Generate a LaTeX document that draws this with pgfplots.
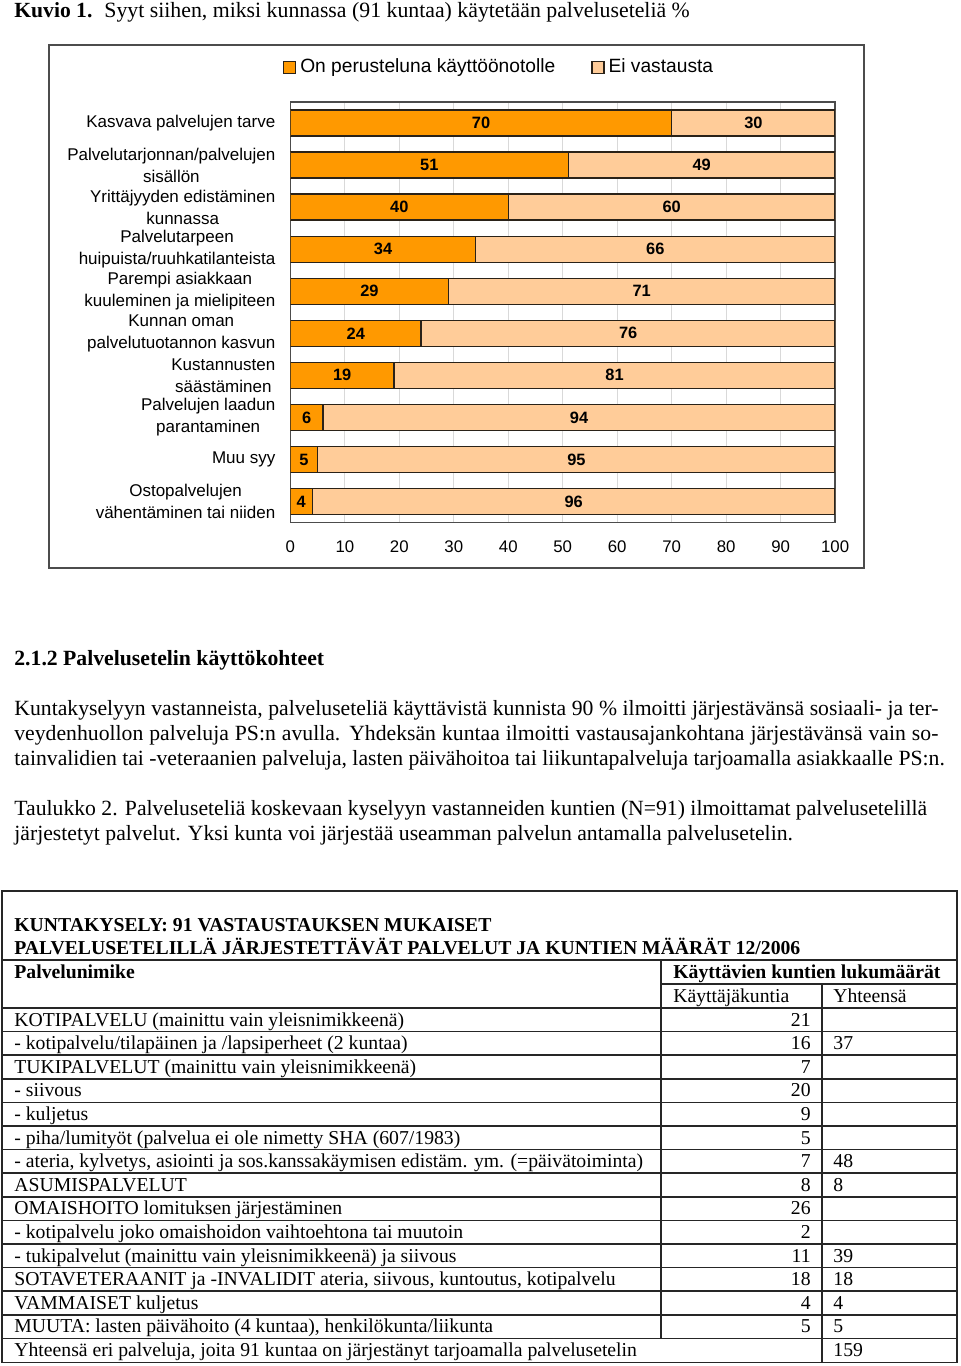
\documentclass[border=0pt]{standalone}
\usepackage{pgfplots}
\pgfplotsset{compat=1.18}
\usepackage{pgfplotstable}
\usepackage{fontspec}
\setmainfont{Liberation Serif}
\setsansfont{Liberation Sans}

\definecolor{oranssi}{HTML}{FF9900}
\definecolor{persikka}{HTML}{FFCC99}
\definecolor{reuna}{HTML}{2A2218}

% osuudet (%), 0 = ylin rivi
\pgfplotstableread{
cat on ei
0 70 30
1 51 49
2 40 60
3 34 66
4 29 71
5 24 76
6 19 81
7  6 94
8  5 95
9  4 96
}\syyt

% arvojen paikat palkkien keskellä
\pgfplotstableread{
cat x lab
0 35   70
0 85   30
1 25.5 51
1 75.5 49
2 20   40
2 70   60
3 17   34
3 67   66
4 14.5 29
4 64.5 71
5 12   24
5 62   76
6 9.5  19
6 59.5 81
7 3    6
7 53   94
8 2.5  5
8 52.5 95
9 2    4
9 52   96
}\nimet

\newcommand\teksti{\fontsize{10.85}{12.5}\selectfont}
\newcommand\taulu{\fontsize{9.85}{11.8}\selectfont}
\newcommand\rivi[4]{%
  \pgfmathsetmacro\yy{-(1026+23.6*#1)}%
  \node[anchor=base west, inner sep=0pt] at (14,\yy) {\taulu #2};
  \node[anchor=base east, inner sep=0pt] at (811,\yy) {\taulu #3};
  \node[anchor=base west, inner sep=0pt] at (833,\yy) {\taulu #4};
}

\begin{document}
\begin{tikzpicture}[x=0.5pt,y=0.5pt]
\useasboundingbox (0,0) rectangle (960,-1366);

% otsikko
\node[anchor=base west, inner sep=0pt] at (14,-17) {\fontsize{10.8}{13}\selectfont\bfseries Kuvio 1.};
\node[anchor=base west, inner sep=0pt] at (104,-17) {\fontsize{10.9}{13}\selectfont Syyt siihen, miksi kunnassa (91 kuntaa) käytetään palveluseteliä \%};

% kuvion kehys
\draw[gray!60!black, line width=1pt] (49,-45) rectangle (864,-568);

\begin{axis}[
  at={(145.2pt,-261.25pt)}, anchor=south west,
  scale only axis, width=272.35pt, height=210.25pt,
  xbar stacked, bar width=13pt,
  xmin=0, xmax=100, ymin=-0.5, ymax=9.5, y dir=reverse,
  xtick={0,10,...,100}, ytick={0,...,9},
  yticklabels={Kasvava palvelujen tarve,
    Palvelutarjonnan/palvelujen\\sisällön,
    Yrittäjyyden edistäminen\\kunnassa,
    Palvelutarpeen\\huipuista/ruuhkatilanteista,
    Parempi asiakkaan\\kuuleminen ja mielipiteen,
    Kunnan oman\\palvelutuotannon kasvun,
    Kustannusten\\säästäminen,
    Palvelujen laadun\\parantaminen,
    Muu syy,
    Ostopalvelujen\\vähentäminen tai niiden},
  xmajorgrids, major grid style={gray!30, line width=0.5pt},
  axis line style={gray!60!black, line width=0.7pt},
  tick style={draw=none},
  /pgf/number format/assume math mode=true,
  xticklabel style={font=\sffamily\fontsize{8.4}{10}\selectfont, yshift=-5.5pt},
  yticklabel style={font=\sffamily\fontsize{8.5}{11}\selectfont, align=center, xshift=-4pt},
  legend style={at={(0.385,1.083)}, anchor=center, draw=none, fill=none,
    legend columns=2, font=\sffamily\fontsize{9.6}{11.5}\selectfont,
    /tikz/every even column/.append style={column sep=16pt}},
]
\addplot[fill=oranssi, draw=reuna, line width=0.65pt,
  legend image code/.code={\draw[fill=oranssi, draw=reuna, line width=0.6pt] (0pt,-3pt) rectangle (6pt,3pt);}]
  table[x=on, y=cat] {\syyt};
\addplot[fill=persikka, draw=reuna, line width=0.65pt,
  legend image code/.code={\draw[fill=persikka, draw=reuna, line width=0.6pt] (0pt,-3pt) rectangle (6pt,3pt);}]
  table[x=ei, y=cat] {\syyt};
\legend{On perusteluna käyttöönotolle, Ei vastausta}
\end{axis}

\begin{axis}[
  at={(145.2pt,-261.25pt)}, anchor=south west,
  scale only axis, width=272.35pt, height=210.25pt,
  xmin=0, xmax=100, ymin=-0.5, ymax=9.5, y dir=reverse,
  hide axis,
]
\addplot[only marks, mark=*, mark size=0pt, mark options={draw=none, fill=none},
  nodes near coords, point meta=explicit symbolic,
  every node near coord/.append style={anchor=center, text=black,
    font=\sffamily\bfseries\fontsize{8.2}{10}\selectfont}]
  table[x=x, y=cat, meta=lab] {\nimet};
\end{axis}

% teksti
\node[anchor=base west, inner sep=0pt] at (14,-665) {\teksti\bfseries 2.1.2 Palvelusetelin käyttökohteet};
\node[anchor=base west, inner sep=0pt] at (14,-715) {\teksti\makebox[462pt][s]{Kuntakyselyyn vastanneista, palveluseteliä käyttävistä kunnista 90 \% ilmoitti järjestävänsä sosiaali- ja ter-}};
\node[anchor=base west, inner sep=0pt] at (14,-740) {\teksti\makebox[462pt][s]{veydenhuollon palveluja PS:n avulla. Yhdeksän kuntaa ilmoitti vastausajankohtana järjestävänsä vain so-}};
\node[anchor=base west, inner sep=0pt] at (14,-765) {\teksti tainvalidien tai -veteraanien palveluja, lasten päivähoitoa tai liikuntapalveluja tarjoamalla asiakkaalle PS:n.};
\node[anchor=base west, inner sep=0pt] at (14,-815) {\teksti Taulukko 2. Palveluseteliä koskevaan kyselyyn vastanneiden kuntien (N=91) ilmoittamat palvelusetelillä};
\node[anchor=base west, inner sep=0pt] at (14,-840) {\teksti järjestetyt palvelut. Yksi kunta voi järjestää useamman palvelun antamalla palvelusetelin.};

% taulukko
\begin{scope}[draw=gray!30!black, line width=0.75pt]
\draw (2,-891) rectangle (957,-1362.5);
\draw (2,-960) -- (957,-960);
\draw (661,-984) -- (957,-984);
\foreach \i in {0,...,14} {\draw (2,{-(1008+23.6*\i)}) -- (957,{-(1008+23.6*\i)});}
\draw (661,-960) -- (661,-1339);
\draw (822,-984) -- (822,-1362.5);
\end{scope}
\node[anchor=base west, inner sep=0pt] at (14,-931) {\taulu\bfseries KUNTAKYSELY: 91 VASTAUSTAUKSEN MUKAISET};
\node[anchor=base west, inner sep=0pt] at (14,-954) {\taulu\bfseries PALVELUSETELILLÄ JÄRJESTETTÄVÄT PALVELUT JA KUNTIEN MÄÄRÄT 12/2006};
\node[anchor=base west, inner sep=0pt] at (14,-978) {\taulu\bfseries Palvelunimike};
\node[anchor=base west, inner sep=0pt] at (673,-978) {\taulu\bfseries Käyttävien kuntien lukumäärät};
\node[anchor=base west, inner sep=0pt] at (673,-1002) {\taulu Käyttäjäkuntia};
\node[anchor=base west, inner sep=0pt] at (833,-1002) {\taulu Yhteensä};
\rivi{0}{KOTIPALVELU (mainittu vain yleisnimikkeenä)}{21}{}
\rivi{1}{- kotipalvelu/tilapäinen ja /lapsiperheet (2 kuntaa)}{16}{37}
\rivi{2}{TUKIPALVELUT (mainittu vain yleisnimikkeenä)}{7}{}
\rivi{3}{- siivous}{20}{}
\rivi{4}{- kuljetus}{9}{}
\rivi{5}{- piha/lumityöt (palvelua ei ole nimetty SHA (607/1983)}{5}{}
\rivi{6}{- ateria, kylvetys, asiointi ja sos.kanssakäymisen edistäm. ym. (=päivätoiminta)}{7}{48}
\rivi{7}{ASUMISPALVELUT}{8}{8}
\rivi{8}{OMAISHOITO lomituksen järjestäminen}{26}{}
\rivi{9}{- kotipalvelu joko omaishoidon vaihtoehtona tai muutoin}{2}{}
\rivi{10}{- tukipalvelut (mainittu vain yleisnimikkeenä) ja siivous}{11}{39}
\rivi{11}{SOTAVETERAANIT ja -INVALIDIT ateria, siivous, kuntoutus, kotipalvelu}{18}{18}
\rivi{12}{VAMMAISET kuljetus}{4}{4}
\rivi{13}{MUUTA: lasten päivähoito (4 kuntaa), henkilökunta/liikunta}{5}{5}
\rivi{14}{Yhteensä eri palveluja, joita 91 kuntaa on järjestänyt tarjoamalla palvelusetelin}{}{159}
\end{tikzpicture}
\end{document}
